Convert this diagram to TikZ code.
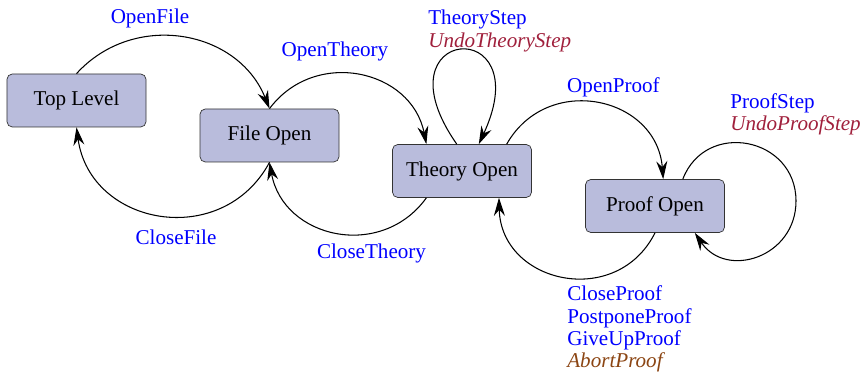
\documentclass[tikz,border=0pt,12pt]{standalone}
\usepackage{fontspec}
\setmainfont{Liberation Serif}
\usepackage{tikz}
\usetikzlibrary{arrows.meta}
\definecolor{stategray}{RGB}{185,188,220}
\definecolor{undored}{RGB}{160,32,60}
\definecolor{abortbrown}{RGB}{139,69,19}
\tikzset{
	statebox/.style={draw=black!80, fill=stategray, rounded corners=3pt, minimum width=2.78cm, minimum height=1.06cm, inner sep=0pt},
	edge/.style={semithick, -{Stealth[length=3.6mm,width=2.2mm,inset=1.2mm]}},
	cmd/.style={text=blue, align=left, inner sep=0pt, font=\fontsize{12}{12.6}\selectfont}
}
\newcommand{\state}[3] % {name}{x,y}{texte}
{
	\node [statebox] (#1) at (#2) {#3};
}
\begin{document}
\begin{tikzpicture}

		\useasboundingbox (0,0) rectangle (17.22,-7.46);

		% les etats
		\state{top}{1.53,-2.01}{Top Level}
		\state{file}{5.39,-2.71}{File Open}
		\state{theory}{9.24,-3.42}{Theory Open}
		\state{proof}{13.10,-4.12}{Proof Open}

		% transitions
		\draw [edge] (top.north) to [bend left=58, looseness=1.11] (file.north);
		\draw [edge] (file.south) to [bend left=72, looseness=1.3] (top.south);
		\draw [edge] (file.north) to [bend left=66, looseness=1.21] (theory.143);
		\draw [edge] (theory.217) to [bend left=67, looseness=1.23] (file.south);
		\draw [edge] (theory.31) to [bend left=73, looseness=1.32] (proof.73);
		\draw [edge] (proof.south) to [bend left=76, looseness=1.37] (theory.324);
		\draw [edge] (theory.101) to [out=125, in=65, min distance=2.9cm] (theory.58);
		\coordinate (ploop) at (15.92,-4.02);
		\draw [edge] (proof.44) to [out=69, in=90, looseness=1.42] (ploop) to [out=-90, in=-56, looseness=1.36] (proof.326);

		% etiquettes
		\node [cmd] (lopenfile) at (3.00,-0.36) {OpenFile};
		\node [cmd] (lopentheory) at (6.70,-1.02) {OpenTheory};
		\node [cmd, anchor=west] (ltheorystep) at (8.56,-0.62) {TheoryStep\\\textcolor{undored}{\itshape UndoTheoryStep}};
		\node [cmd] (lopenproof) at (12.27,-1.74) {OpenProof};
		\node [cmd, anchor=west] (lproofstep) at (14.60,-2.29) {ProofStep\\\textcolor{undored}{\itshape UndoProofStep}};
		\node [cmd] (lclosefile) at (3.52,-4.74) {CloseFile};
		\node [cmd] (lclosetheory) at (7.43,-5.06) {CloseTheory};
		\node [cmd, anchor=west] (lcloseproof) at (11.34,-6.58) {CloseProof\\PostponeProof\\GiveUpProof\\\textcolor{abortbrown}{\itshape AbortProof}};

\end{tikzpicture}
\end{document}
